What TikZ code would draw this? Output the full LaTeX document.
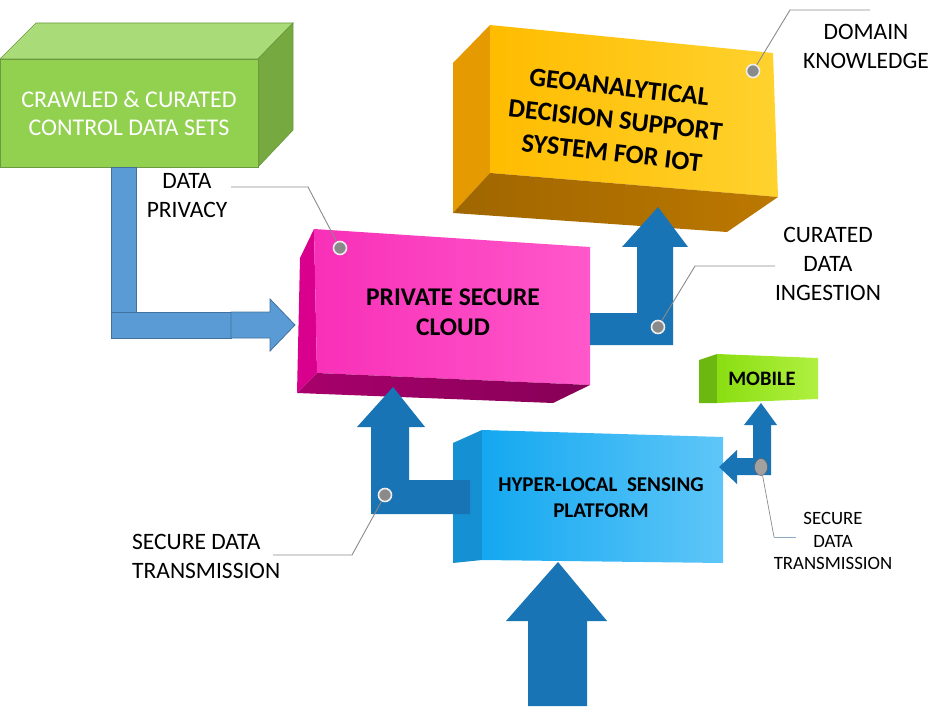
\documentclass[tikz,border=0pt]{standalone}
\usepackage{fontspec}
\setmainfont{Carlito}
\usetikzlibrary{calc,shapes.geometric}
\definecolor{gfront}{HTML}{92D050}
\definecolor{gtop}{HTML}{A9DB78}
\definecolor{gside}{HTML}{76A93F}
\definecolor{gedge}{HTML}{6C9A41}
\definecolor{lblue}{HTML}{5B9BD5}
\definecolor{lbedge}{HTML}{41719C}
\definecolor{dblue}{HTML}{1874B4}
\definecolor{pinkA}{HTML}{F830B8}
\definecolor{pinkB}{HTML}{FF58CA}
\definecolor{pinkside}{HTML}{D8008C}
\definecolor{pinkbot}{HTML}{A8006C}
\definecolor{orA}{HTML}{FFBC00}
\definecolor{orB}{HTML}{FFD22E}
\definecolor{orside}{HTML}{E49A00}
\definecolor{orbot}{HTML}{BC7800}
\definecolor{skyA}{HTML}{14A8F0}
\definecolor{skyB}{HTML}{5EC6F8}
\definecolor{skyside}{HTML}{1590D2}
\definecolor{mobA}{HTML}{8ADE12}
\definecolor{mobB}{HTML}{B0F040}
\definecolor{mobside}{HTML}{6CB810}
\definecolor{leadc}{HTML}{8A8A8A}
\tikzset{
  lbl/.style={font=\fontsize{23.5}{29}\selectfont, align=center, text=black, inner sep=0pt},
  boxtxt/.style={font=\bfseries\fontsize{25.5}{30}\selectfont, align=center, text=black, inner sep=0pt},
  leader/.style={draw=leadc, line width=0.9pt},
  dotring/.style={circle, fill=leadc, draw=white!85!gray, line width=1.6pt, minimum size=13pt, inner sep=0pt},
  fatarrow/.style={fill=dblue},
  lightarrow/.style={fill=lblue, draw=lbedge, line width=0.8pt}
}
\begin{document}
\begin{tikzpicture}[x=1pt,y=-1pt]
\useasboundingbox (0,0) rectangle (947,711);

% ---------- green box ----------
\fill[gtop, draw=gedge, line width=0.7pt] (0,59) -- (36,23) -- (293,23) -- (258,59) -- cycle;
\fill[gside, draw=gedge, line width=0.7pt] (258,59) -- (293,23) -- (293,130) -- (258,167) -- cycle;
\fill[gfront, draw=gedge, line width=0.7pt] (0,59) rectangle (258,167);
\node[font=\fontsize{24}{28}\selectfont, align=center, text=white, inner sep=0pt] (crawled) at (129,113) {CRAWLED \& CURATED\\CONTROL DATA SETS};

% ---------- light blue L arrow ----------
\path[lightarrow] (111,167) rectangle (136,312);
\path[lightarrow] (111,312) rectangle (231,338);
\path[lightarrow] (231,312) -- (270,312) -- (270,299) -- (295,325) -- (270,351) -- (270,338) -- (231,338) -- cycle;

% ---------- orange box ----------
\fill[orside] (453,63) -- (490,25) -- (490,173) -- (453,213) -- cycle;
\path[left color=orA, right color=orB] (490,25) -- (773,53) -- (778,197) -- (490,173) -- cycle;
\path[left color=orbot!85!black, right color=orbot] (490,173) -- (778,197) -- (727,232) -- (453,213) -- cycle;
\node[boxtxt, font=\bfseries\fontsize{26.5}{33}\selectfont, rotate=-6.5] (geo) at (615.5,120) {GEOANALYTICAL\\DECISION SUPPORT\\SYSTEM FOR IOT};

% ---------- pink box ----------
\fill[pinkside] (300,258) -- (314,229) -- (317,373) -- (297,393) -- cycle;
\path[left color=pinkA, right color=pinkB] (314,229) -- (590,247) -- (590,385) -- (317,373) -- cycle;
\path[left color=pinkbot, right color=pinkbot!80!black] (317,373) -- (590,385) -- (553,403) -- (297,393) -- cycle;
\node[boxtxt] (cloud) at (453,312) {PRIVATE SECURE\\CLOUD};

% ---------- curated ingestion arrow ----------
\path[fatarrow] (590,313) -- (637,313) -- (637,247) -- (622,247) -- (658,207) -- (688,247) -- (673,247) -- (673,345) -- (590,345) -- cycle;

% ---------- sky blue box ----------
\fill[skyside] (453,443) -- (482,430) -- (482,560) -- (453,563) -- cycle;
\path[left color=skyA, right color=skyB] (482,430) -- (723,437) -- (723,563) -- (482,560) -- cycle;
\node[boxtxt, font=\bfseries\fontsize{21}{26}\selectfont] (hyper) at (601,498) {HYPER-LOCAL~~SENSING\\PLATFORM};

% ---------- arrow up to cloud ----------
\path[fatarrow] (371,514) -- (371,427) -- (357,427) -- (393,387) -- (425,427) -- (409,427) -- (409,480) -- (470,480) -- (470,514) -- cycle;

% ---------- bottom arrow ----------
\path[fatarrow] (528,706) -- (528,621) -- (506,621) -- (558,562) -- (607,621) -- (587,621) -- (587,706) -- cycle;

% ---------- mobile box ----------
\fill[mobside] (699,360) -- (717,354) -- (717,403) -- (699,403) -- cycle;
\path[left color=mobA, right color=mobB] (717,354) -- (818,358) -- (818,399) -- (717,403) -- cycle;
\node[boxtxt, font=\bfseries\fontsize{20.5}{24}\selectfont] (mobile) at (762,379) {MOBILE};

% ---------- mobile arrow ----------
\path[fatarrow] (771,475) -- (771,425) -- (777,425) -- (761,403) -- (744,425) -- (753,425) -- (753,458) -- (737,458) -- (737,450) -- (719,467) -- (737,484) -- (737,475) -- cycle;

% ---------- labels ----------
\node[lbl] (domain) at (866,46) {DOMAIN\\KNOWLEDGE};
\node[lbl] (privacy) at (187,196) {DATA\\PRIVACY};
\node[lbl] (curated) at (828,264) {CURATED\\DATA\\INGESTION};
\node[lbl, align=left, anchor=west] (secleft) at (132,556) {SECURE DATA\\TRANSMISSION};
\node[lbl, font=\fontsize{18.8}{22.5}\selectfont] (secright) at (833,541) {SECURE\\DATA\\TRANSMISSION};

% ---------- leader lines ----------
\coordinate (dk1) at (790,10);  \coordinate (dk2) at (870,10);
\coordinate (dp1) at (308,187); \coordinate (dp2) at (231,187);
\coordinate (ci1) at (695,266); \coordinate (ci2) at (775,266);
\coordinate (sl1) at (352,555); \coordinate (sl2) at (273,555);
\coordinate (sr1) at (774,537); \coordinate (sr2) at (796,537);

\node[dotring] (ddomain) at (753,71) {};
\node[dotring] (dpriv) at (340,248) {};
\node[dotring] (dcur) at (658,327) {};
\node[dotring] (dsec) at (385,495) {};
\draw[leader] (ddomain) -- (dk1) -- (dk2);
\draw[leader] (dpriv) -- (dp1) -- (dp2);
\draw[leader] (dcur) -- (ci1) -- (ci2);
\draw[leader] (dsec) -- (sl1) -- (sl2);
\node[ellipse, fill=leadc!80!white, draw=leadc!70!black, line width=0.5pt, minimum width=13pt, minimum height=17pt, inner sep=0pt] (dsecr) at (761,467) {};
\draw[draw=leadc, line width=0.7pt] (dsecr) -- (sr1);
\draw[draw=lbedge!60!white, line width=0.9pt] (sr1) -- (sr2);
\end{tikzpicture}
\end{document}
